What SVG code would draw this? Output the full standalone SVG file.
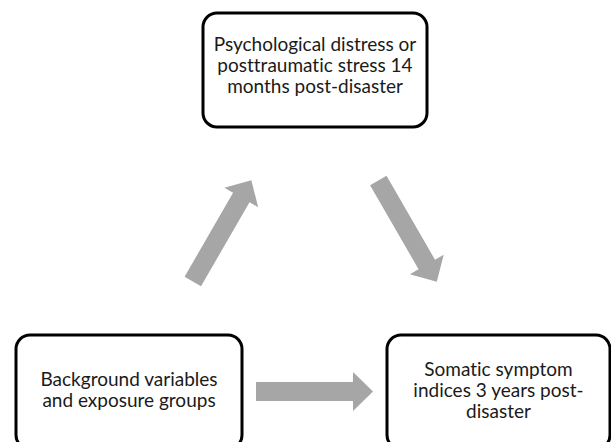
<svg xmlns="http://www.w3.org/2000/svg" width="611" height="442" viewBox="0 0 611 442">
<style>
.box{fill:#fff;stroke:#000;stroke-width:3}
.lbl{font-family:Lato,"Open Sans","Liberation Sans",sans-serif;font-size:19px;fill:#1a1a1a;text-anchor:middle;font-variant-ligatures:none}
.arr{fill:#a6a6a6}
</style>
<defs>
<path id="arrow" d="M0,-9.5 L97,-9.5 L97,-19.5 L117,0 L97,19.5 L97,9.5 L0,9.5 Z"/>
</defs>
<rect width="611" height="442" fill="#fff"/>
<g id="connectors" class="arr">
<use href="#arrow" transform="translate(192.8,281.5) rotate(-60)"/>
<use href="#arrow" transform="translate(378.3,180.5) rotate(60)"/>
<use href="#arrow" transform="translate(256,391.5)"/>
</g>
<g id="node-distress">
<rect class="box" x="203" y="13" width="224" height="114" rx="14"/>
<text class="lbl"><tspan x="315" y="51">Psychological distress or</tspan><tspan x="315" y="72">posttraumatic stress 14</tspan><tspan x="315" y="93">months post-disaster</tspan></text>
</g>
<g id="node-background">
<rect class="box" x="16" y="335" width="226" height="114" rx="14"/>
<text class="lbl"><tspan x="129" y="385.5">Background variables</tspan><tspan x="129" y="406.5">and exposure groups</tspan></text>
</g>
<g id="node-somatic">
<rect class="box" x="387" y="335" width="223" height="114" rx="14"/>
<text class="lbl"><tspan x="498.5" y="375.5">Somatic symptom</tspan><tspan x="498.5" y="396.5">indices 3 years post-</tspan><tspan x="498.5" y="417.5">disaster</tspan></text>
</g>
</svg>
